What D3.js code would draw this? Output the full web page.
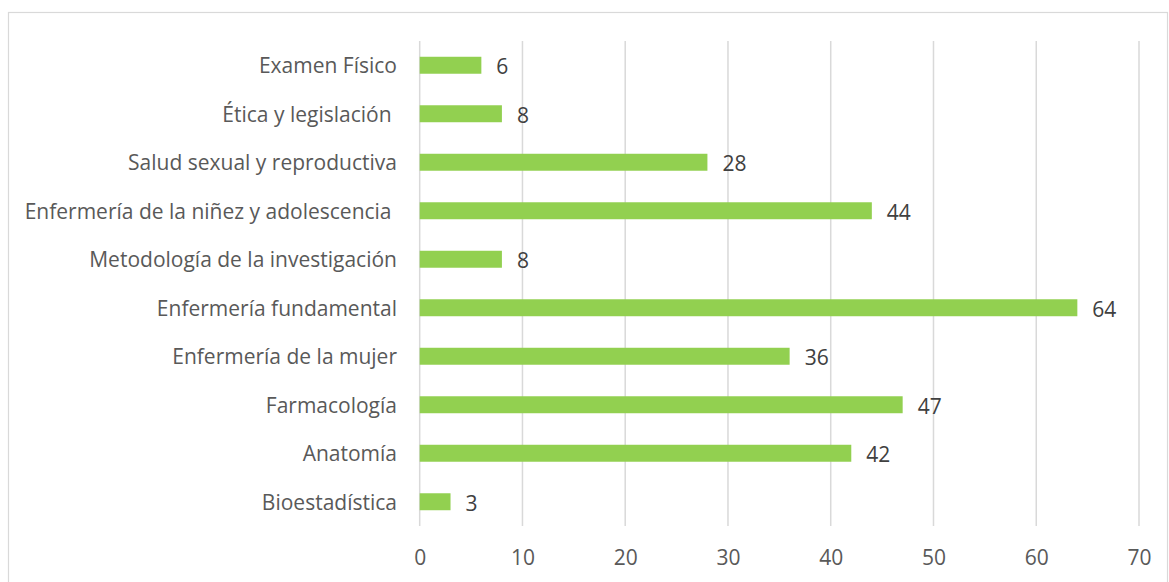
<!DOCTYPE html>
<html>
<head>
<meta charset="utf-8">
<script src="https://cdn.jsdelivr.net/npm/d3@7"></script>
<style>
  body { margin: 0; background: #fff; }
  text { font-family: "Open Sans", sans-serif; }
</style>
</head>
<body>
<div class="chart"></div>
<script>
// data, top to bottom
const categories = [
  'Examen Físico',
  'Ética y legislación ',
  'Salud sexual y reproductiva',
  'Enfermería de la niñez y adolescencia ',
  'Metodología de la investigación',
  'Enfermería fundamental',
  'Enfermería de la mujer',
  'Farmacología',
  'Anatomía',
  'Bioestadística'
];
const values = [6, 8, 28, 44, 8, 64, 36, 47, 42, 3];
const xTicks = [0, 10, 20, 30, 40, 50, 60, 70];

const data = categories.map((c, i) => ({ name: c, value: values[i] }));

const dims = { width: 1169, height: 582 };
const plot = { left: 419.7, right: 1139, top: 41, bottom: 526 };

const svg = d3.select('.chart')
  .append('svg')
  .attr('width', dims.width)
  .attr('height', dims.height);

// outer frame
svg.append('rect')
  .attr('x', 8.5)
  .attr('y', 12.5)
  .attr('width', 1159)
  .attr('height', 600)
  .attr('fill', 'none')
  .attr('stroke', '#d9d9d9')
  .attr('stroke-width', 1.2);

const x = d3.scaleLinear()
  .domain([0, 70])
  .range([plot.left, plot.right]);

const y = d3.scaleBand()
  .domain(categories)
  .range([plot.top, plot.bottom])
  .paddingInner(0.65)
  .paddingOuter(0.325);

// vertical gridlines
svg.append('g')
  .selectAll('line')
  .data(xTicks)
  .enter()
  .append('line')
  .attr('x1', d => x(d))
  .attr('x2', d => x(d))
  .attr('y1', plot.top)
  .attr('y2', plot.bottom)
  .attr('stroke', '#d9d9d9')
  .attr('stroke-width', 1.5);

// x axis labels, no domain line
const xAxis = d3.axisBottom(x)
  .tickValues(xTicks)
  .tickSize(0)
  .tickPadding(0);

const xg = svg.append('g')
  .attr('transform', `translate(0, ${plot.bottom})`)
  .call(xAxis);
xg.select('.domain').remove();
xg.selectAll('text')
  .attr('dy', null)
  .attr('y', 31)
  .attr('dominant-baseline', 'central')
  .attr('font-size', '21px')
  .attr('font-family', '"Open Sans", sans-serif')
  .attr('fill', '#595959');

// category labels
const yAxis = d3.axisLeft(y)
  .tickSize(0)
  .tickPadding(0);

const yg = svg.append('g')
  .attr('transform', `translate(397, 0)`)
  .call(yAxis);
yg.select('.domain').remove();
yg.selectAll('text')
  .attr('dy', null)
  .attr('x', 0)
  .attr('dominant-baseline', 'central')
  .attr('font-size', '21px')
  .attr('font-family', '"Open Sans", sans-serif')
  .attr('fill', '#595959')
  .style('white-space', 'pre');

// bars
svg.append('g')
  .selectAll('rect')
  .data(data)
  .enter()
  .append('rect')
  .attr('x', x(0))
  .attr('y', d => y(d.name))
  .attr('width', d => x(d.value) - x(0))
  .attr('height', y.bandwidth())
  .attr('fill', '#92d050');

// value labels
svg.append('g')
  .selectAll('text')
  .data(data)
  .enter()
  .append('text')
  .attr('x', d => x(d.value) + 15)
  .attr('y', d => y(d.name) + y.bandwidth() / 2 + 1)
  .attr('dominant-baseline', 'central')
  .attr('font-size', '21px')
  .attr('fill', '#404040')
  .text(d => d.value);
</script>
</body>
</html>
